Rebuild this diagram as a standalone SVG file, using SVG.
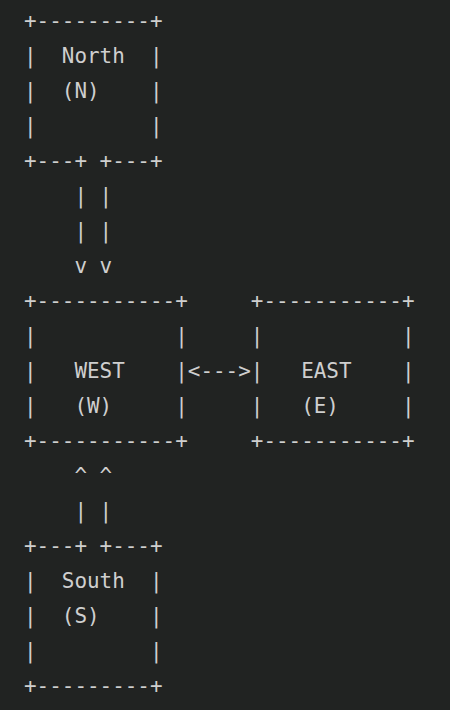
<svg xmlns="http://www.w3.org/2000/svg" width="450" height="710" viewBox="0 0 450 710">
<style>
text{font-family:"DejaVu Sans Mono","Liberation Mono",monospace;font-size:20.93px;fill:#cfcfcf;white-space:pre}
</style>
<rect width="450" height="710" fill="#212322"/>
<g id="north">
<text x="24" y="27.5">+---------+</text>
<text x="24" y="62.5">|  North  |</text>
<text x="24" y="97.5">|  (N)    |</text>
<text x="24" y="132.5">|         |</text>
<text x="24" y="167.5">+---+ +---+</text>
</g>
<g id="west">
<text x="24" y="307.5">+-----------+</text>
<text x="24" y="342.5">|           |</text>
<text x="24" y="377.5">|   WEST    |</text>
<text x="24" y="412.5">|   (W)     |</text>
<text x="24" y="447.5">+-----------+</text>
</g>
<g id="east">
<text x="250.8" y="307.5">+-----------+</text>
<text x="250.8" y="342.5">|           |</text>
<text x="250.8" y="377.5">|   EAST    |</text>
<text x="250.8" y="412.5">|   (E)     |</text>
<text x="250.8" y="447.5">+-----------+</text>
</g>
<g id="south">
<text x="24" y="552.5">+---+ +---+</text>
<text x="24" y="587.5">|  South  |</text>
<text x="24" y="622.5">|  (S)    |</text>
<text x="24" y="657.5">|         |</text>
<text x="24" y="692.5">+---------+</text>
</g>
<g id="connectors">
<text x="74.4" y="202.5">| |</text>
<text x="74.4" y="237.5">| |</text>
<text x="74.4" y="272.5">v v</text>
<text x="187.8" y="377.5">&lt;---&gt;</text>
<text x="74.4" y="482.5">^ ^</text>
<text x="74.4" y="517.5">| |</text>
</g>
</svg>
